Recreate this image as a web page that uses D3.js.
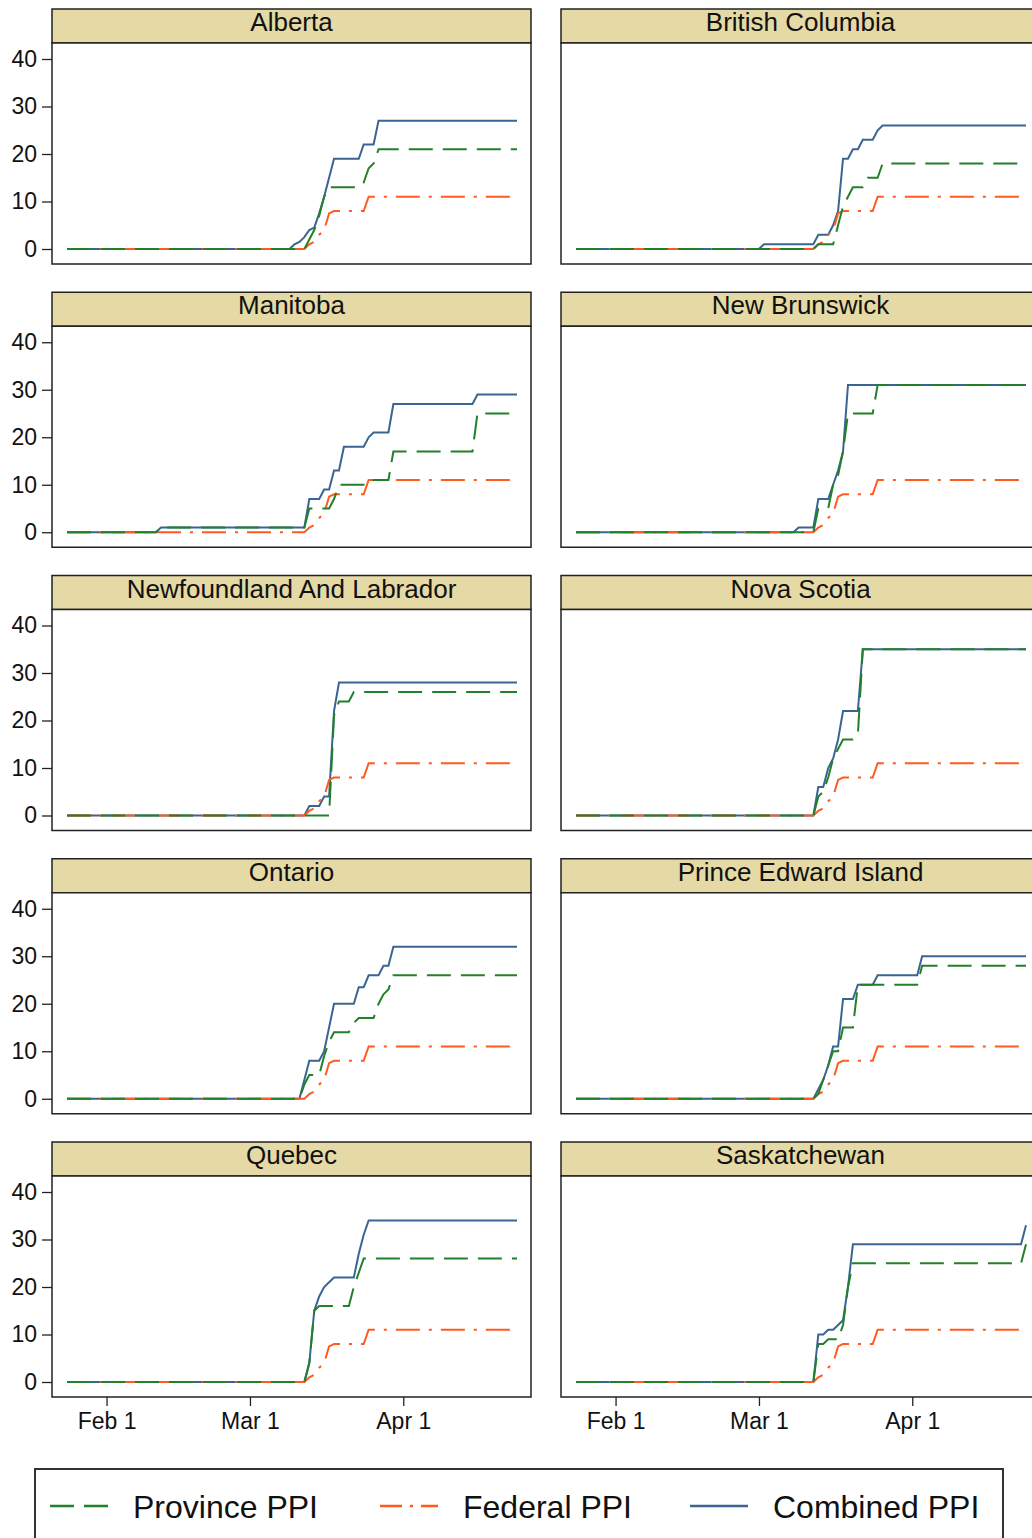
<!DOCTYPE html>
<html>
<head>
<meta charset="utf-8">
<script src="https://cdn.jsdelivr.net/npm/d3@7"></script>
<style>
  body { margin: 0; background: #fff; }
  svg { display: block; font-family: "Liberation Sans", Arial, sans-serif; }
</style>
</head>
<body>
<svg id="chart" width="1032" height="1538"></svg>
<script>
// Panel order: two columns, read left to right, top to bottom
const provinces = [
  "Alberta", "British Columbia", "Manitoba", "New Brunswick",
  "Newfoundland And Labrador", "Nova Scotia", "Ontario",
  "Prince Edward Island", "Quebec", "Saskatchewan"
];

// Each point: [days after 1 Mar 2020, index value]
const provinceSeries = [
  [[-37,0],[11,0],[12,2],[13,4],[14,7],[15,11],[16,13],[22,13],[23,14],[24,17],[25,18],[26,21],[54,21]],
  [[-37,0],[11,0],[12,1],[15,1],[16,5],[17,9],[18,11],[19,13],[21,13],[22,15],[24,15],[25,18],[54,18]],
  [[-37,0],[-19,0],[-18,1],[11,1],[12,5],[16,5],[17,7],[18,10],[24,10],[25,11],[28,11],[29,17],[45,17],[46,25],[54,25]],
  [[-37,0],[11,0],[12,5],[14,5],[15,10],[16,12],[17,17],[18,25],[23,25],[24,31],[54,31]],
  [[-37,0],[16,0],[17,21],[18,24],[20,24],[21,26],[54,26]],
  [[-37,0],[11,0],[12,4],[13,5],[14,8],[15,12],[16,14],[17,16],[19,16],[20,17],[21,35],[54,35]],
  [[-37,0],[10,0],[11,3],[12,5],[14,5],[15,9],[16,12],[17,14],[20,14],[21,16],[22,17],[25,17],[26,20],[27,22],[28,23],[29,26],[54,26]],
  [[-37,0],[11,0],[12,1],[13,4],[14,7],[15,10],[16,10],[17,15],[19,15],[20,24],[32,24],[33,28],[54,28]],
  [[-37,0],[11,0],[12,4],[13,15],[14,16],[20,16],[21,20],[22,23],[23,26],[54,26]],
  [[-37,0],[11,0],[12,8],[13,8],[14,9],[16,9],[17,12],[18,20],[19,25],[53,25],[54,29]]
];

// The federal index is common to every province
const federalSeries = [[-37,0],[11,0],[12,1],[13,1.5],[14,3],[15,4],[16,7.5],[17,8],[23,8],[24,11],[54,11]];

const combinedSeries = [
  [[-37,0],[8,0],[9,1],[10,1.5],[11,2.5],[12,4],[13,4.5],[14,7.5],[15,11],[16,15],[17,19],[22,19],[23,22],[25,22],[26,27],[54,27]],
  [[-37,0],[0,0],[1,1],[11,1],[12,3],[14,3],[15,5],[16,8],[17,19],[18,19],[19,21],[20,21],[21,23],[23,23],[24,25],[25,26],[54,26]],
  [[-37,0],[-19,0],[-18,1],[11,1],[12,7],[14,7],[15,9],[16,9],[17,13],[18,13],[19,18],[23,18],[24,20],[25,21],[28,21],[29,27],[45,27],[46,29],[54,29]],
  [[-37,0],[7,0],[8,1],[11,1],[12,7],[14,7],[15,10],[16,13],[17,17],[18,31],[54,31]],
  [[-37,0],[11,0],[12,2],[14,2],[15,4],[16,4],[17,22],[18,28],[54,28]],
  [[-37,0],[11,0],[12,6],[13,6],[14,10],[15,12],[16,16],[17,22],[20,22],[21,35],[54,35]],
  [[-37,0],[10,0],[11,4],[12,8],[14,8],[15,10],[16,15],[17,20],[21,20],[22,23.5],[23,23.5],[24,26],[26,26],[27,28],[28,28],[29,32],[54,32]],
  [[-37,0],[11,0],[12,2],[13,4],[14,7],[15,11],[16,11],[17,21],[19,21],[20,24],[23,24],[24,26],[32,26],[33,30],[54,30]],
  [[-37,0],[11,0],[12,4],[13,15],[14,18],[15,20],[16,21],[17,22],[21,22],[22,27],[23,31],[24,34],[54,34]],
  [[-37,0],[11,0],[12,10],[13,10],[14,11],[15,11],[16,12],[17,13],[18,20],[19,29],[53,29],[54,33]]
];

const yTicks = [0, 10, 20, 30, 40];
const xTickDays = [-29, 0, 31];          // Feb 1, Mar 1, Apr 1
const xTickLabels = ["Feb 1", "Mar 1", "Apr 1"];
const seriesNames = ["Province PPI", "Federal PPI", "Combined PPI"];

// ---- styling ----
const colors = { province: "#23802a", federal: "#ff5a1f", combined: "#3a6491" };
const dashes = { province: "24,10", federal: "24,9,3,9", combined: null };

const svg = d3.select("#chart");
const panelW = 479, headH = 34, plotH = 221;
const colX = [52, 561];
const rowY = [9, 292.25, 575.5, 858.75, 1142];

const day = n => new Date(Date.UTC(2020, 2, 1 + n));
const x = d3.scaleUtc().domain([day(-37), day(54)]).range([15, 465]);
const y = d3.scaleLinear().domain([0, 40]).range([206, 16]);
const line = d3.line().x(d => x(day(d[0]))).y(d => y(d[1]));

provinces.forEach((name, i) => {
  const col = i % 2, row = Math.floor(i / 2);
  const g = svg.append("g").attr("transform", `translate(${colX[col]},${rowY[row]})`);

  // strip header
  g.append("rect").attr("x", 0).attr("y", 0).attr("width", panelW).attr("height", headH)
    .attr("fill", "#e5d9a5").attr("stroke", "#222").attr("stroke-width", 1.5);
  g.append("text").attr("x", panelW / 2).attr("y", 22)
    .attr("text-anchor", "middle").attr("font-size", 26).attr("fill", "#111").text(name);

  const p = g.append("g").attr("transform", `translate(0,${headH})`);
  p.append("rect").attr("width", panelW).attr("height", plotH)
    .attr("fill", "#fff").attr("stroke", "#222").attr("stroke-width", 1.5);

  const draw = (data, key) => {
    p.append("path").datum(data).attr("d", line)
      .attr("fill", "none").attr("stroke", colors[key]).attr("stroke-width", 2)
      .attr("stroke-dasharray", dashes[key]);
  };
  draw(combinedSeries[i], "combined");
  draw(federalSeries, "federal");
  draw(provinceSeries[i], "province");

  if (col === 0) {
    const ax = p.append("g").call(d3.axisLeft(y).tickValues(yTicks).tickSize(10).tickPadding(5));
    ax.select(".domain").remove();
    ax.selectAll("line").attr("stroke", "#222").attr("stroke-width", 1.3);
    ax.selectAll("text").attr("font-size", 23).attr("fill", "#111")
      .attr("font-family", "Liberation Sans, Arial, sans-serif");
  }
  if (row === 4) {
    const ax = p.append("g").attr("transform", `translate(0,${plotH})`)
      .call(d3.axisBottom(x).tickValues(xTickDays.map(day))
        .tickFormat((d, k) => xTickLabels[k]).tickSize(9).tickPadding(7));
    ax.select(".domain").remove();
    ax.selectAll("line").attr("stroke", "#222").attr("stroke-width", 1.3);
    ax.selectAll("text").attr("font-size", 23).attr("fill", "#111")
      .attr("font-family", "Liberation Sans, Arial, sans-serif");
  }
});

// ---- legend ----
const lg = svg.append("g");
lg.append("rect").attr("x", 35).attr("y", 1469).attr("width", 968).attr("height", 120)
  .attr("fill", "#fff").attr("stroke", "#333").attr("stroke-width", 2);
const legendKeys = ["province", "federal", "combined"];
const legendX = [50, 380, 690];
legendKeys.forEach((k, i) => {
  lg.append("line").attr("x1", legendX[i]).attr("x2", legendX[i] + 58)
    .attr("y1", 1506).attr("y2", 1506)
    .attr("stroke", colors[k]).attr("stroke-width", 2.4)
    .attr("stroke-dasharray", k === "province" ? "24,10" : (k === "federal" ? "22,8,3,8" : null));
  lg.append("text").attr("x", legendX[i] + 83).attr("y", 1518)
    .attr("font-size", 32).attr("fill", "#111").text(seriesNames[i]);
});
</script>
</body>
</html>
